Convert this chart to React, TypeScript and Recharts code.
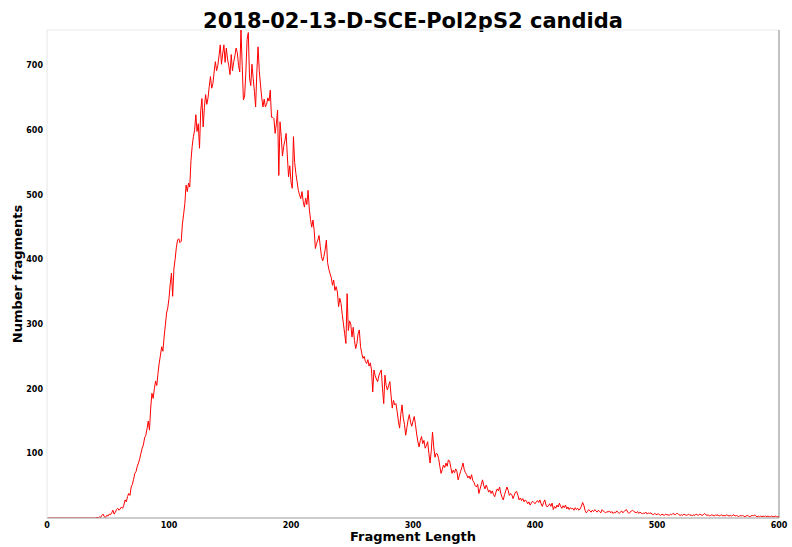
import React from "react";
import { LineChart, Line, XAxis, YAxis, ReferenceLine, Label } from "recharts";

const TITLE = "2018-02-13-D-SCE-Pol2pS2 candida";
const X_LABEL = "Fragment Length";
const Y_LABEL = "Number fragments";
const X_TICKS = [0, 100, 200, 300, 400, 500, 600];
const Y_TICKS = [100, 200, 300, 400, 500, 600, 700];
const FIRST_LENGTH = 0;

// number of fragments for each length, starting at FIRST_LENGTH
const counts = [
  0, 0, 0, 0, 0, 0, 0, 0, 0, 0,
  0, 0, 0, 0, 0, 0, 0, 0, 0, 0,
  0, 0, 0, 0, 0, 0, 0, 0, 0, 0,
  0, 0, 0, 0, 0, 0, 0, 0, 0, 0,
  0, 1, 0, 2, 1, 4, 6, 2, 1, 4,
  3, 6, 5, 8, 12, 6, 9, 13, 15, 12,
  14, 17, 15, 20, 28, 25, 33, 38, 35, 48,
  52, 60, 69, 72, 80, 85, 92, 100, 108, 113,
  124, 128, 138, 150, 136, 170, 193, 185, 200, 212,
  205, 224, 240, 252, 265, 258, 280, 298, 317, 325,
  340, 362, 379, 343, 385, 400, 418, 430, 432, 426,
  428, 455, 470, 487, 515, 505, 518, 512, 553, 575,
  590, 600, 624, 598, 610, 572, 630, 649, 605, 635,
  655, 640, 650, 668, 683, 665, 672, 690, 706, 692,
  700, 715, 732, 702, 718, 732, 705, 727, 710, 700,
  686, 717, 692, 705, 715, 727, 720, 700, 690, 755,
  700, 647, 653, 690, 740, 751, 681, 669, 702, 680,
  660, 636, 690, 729, 692, 670, 650, 636, 648, 636,
  640, 650, 645, 662, 620, 620, 618, 595, 610, 631,
  530, 613, 590, 560, 575, 584, 595, 560, 528, 545,
  520, 510, 590, 550, 533, 520, 507, 500, 494, 505,
  490, 481, 495, 485, 507, 478, 462, 450, 461, 445,
  417, 425, 430, 437, 420, 404, 398, 405, 415, 430,
  395, 385, 378, 372, 360, 368, 352, 358, 350, 327,
  340, 332, 315, 300, 285, 270, 347, 290, 305, 300,
  280, 295, 275, 262, 270, 285, 291, 265, 255, 247,
  250, 242, 239, 245, 235, 240, 229, 195, 229, 220,
  215, 211, 220, 225, 229, 200, 177, 221, 205, 198,
  205, 211, 190, 170, 182, 175, 177, 165, 150, 139,
  160, 175, 155, 145, 128, 140, 152, 160, 148, 142,
  150, 157, 145, 130, 118, 110, 120, 126, 115, 120,
  108, 112, 118, 100, 85, 105, 133, 110, 94, 100,
  99, 92, 80, 69, 75, 82, 78, 85, 80, 90,
  88, 78, 69, 74, 70, 76, 72, 59, 66, 72,
  78, 85, 75, 70, 67, 62, 65, 60, 67, 58,
  55, 50, 48, 52, 38, 45, 52, 59, 50, 45,
  51, 46, 40, 43, 38, 42, 36, 33, 40, 45,
  42, 48, 38, 32, 28, 36, 42, 48, 43, 35,
  38, 36, 30, 35, 40, 41, 35, 28, 31, 27,
  30, 25, 28, 26, 22, 25, 20, 23, 26, 24,
  22, 25, 27, 24, 28, 22, 18, 24, 28, 20,
  17, 19, 22, 18, 23, 13, 18, 15, 20, 17,
  23, 18, 15, 19, 16, 20, 14, 17, 13, 16,
  14, 15, 12, 16, 13, 15, 12, 14, 18, 24,
  20, 12, 8, 10, 13, 11, 9, 12, 10, 13,
  11, 9, 12, 10, 8, 13, 11, 9, 8, 10,
  9, 11, 8, 10, 7, 9, 8, 11, 9, 7,
  9, 11, 8, 10, 12, 13, 9, 7, 9, 11,
  12, 10, 9, 8, 10, 7, 9, 8, 6, 8,
  7, 9, 6, 8, 7, 8, 6, 5, 7, 6,
  5, 7, 5, 4, 6, 5, 4, 6, 5, 5,
  4, 6, 5, 7, 6, 5, 7, 7, 5, 4,
  5, 4, 6, 5, 4, 5, 6, 4, 5, 3,
  5, 4, 6, 5, 4, 6, 5, 4, 5, 7,
  5, 4, 5, 3, 4, 5, 4, 3, 5, 4,
  5, 3, 4, 5, 3, 4, 3, 5, 4, 3,
  4, 3, 4, 5, 3, 4, 3, 2, 4, 3,
  4, 3, 2, 3, 4, 3, 2, 3, 4, 3,
  5, 3, 2, 3, 2, 3, 2, 3, 2, 3,
  2, 3, 2, 2, 3, 2, 2, 3, 2, 2,
  2,
];

const data = counts.map((c, i) => ({ length: FIRST_LENGTH + i, count: c }));

const FONT = "'DejaVu Sans', sans-serif";

export default function App() {
  return (
    <div style={{ position: "absolute", left: 0, top: 0, width: 792, height: 547, background: "#fff" }}>
      <LineChart
        width={792}
        height={547}
        data={data}
        margin={{ top: 30, right: 13, bottom: 0, left: 0 }}
      >
        <text
          x={413}
          y={28}
          textAnchor="middle"
          style={{ fontFamily: FONT, fontWeight: "bold", fontSize: 21, fill: "#000" }}
        >
          {TITLE}
        </text>
        <XAxis
          dataKey="length"
          type="number"
          domain={[0, 600]}
          ticks={X_TICKS}
          allowDataOverflow
          height={29}
          tickLine={false}
          tickSize={0}
          tickMargin={4}
          axisLine={{ stroke: "#999999", strokeWidth: 1.2 }}
          tick={{ fontFamily: FONT, fontWeight: "bold", fontSize: 8, fill: "#000" }}
        >
          <Label
            value={X_LABEL}
            position="insideBottom"
            offset={6}
            style={{ fontFamily: FONT, fontWeight: "bold", fontSize: 13, fill: "#000" }}
          />
        </XAxis>
        <YAxis
          type="number"
          domain={[0, 755]}
          ticks={Y_TICKS}
          allowDataOverflow
          width={47}
          tickLine={false}
          tickSize={0}
          tickMargin={4}
          axisLine={{ stroke: "#e6e6e6", strokeWidth: 1 }}
          tick={{ fontFamily: FONT, fontWeight: "bold", fontSize: 8, fill: "#000" }}
        >
          <Label
            value={Y_LABEL}
            angle={-90}
            position="insideLeft"
            offset={17}
            style={{ fontFamily: FONT, fontWeight: "bold", fontSize: 13, fill: "#000", textAnchor: "middle" }}
          />
        </YAxis>
        <ReferenceLine y={755} stroke="#ebebeb" strokeWidth={1} />
        <ReferenceLine x={600} stroke="#999999" strokeWidth={1.2} />
        <Line
          type="linear"
          dataKey="count"
          stroke="#ff0000"
          strokeWidth={1}
          dot={false}
          isAnimationActive={false}
        />
      </LineChart>
    </div>
  );
}
